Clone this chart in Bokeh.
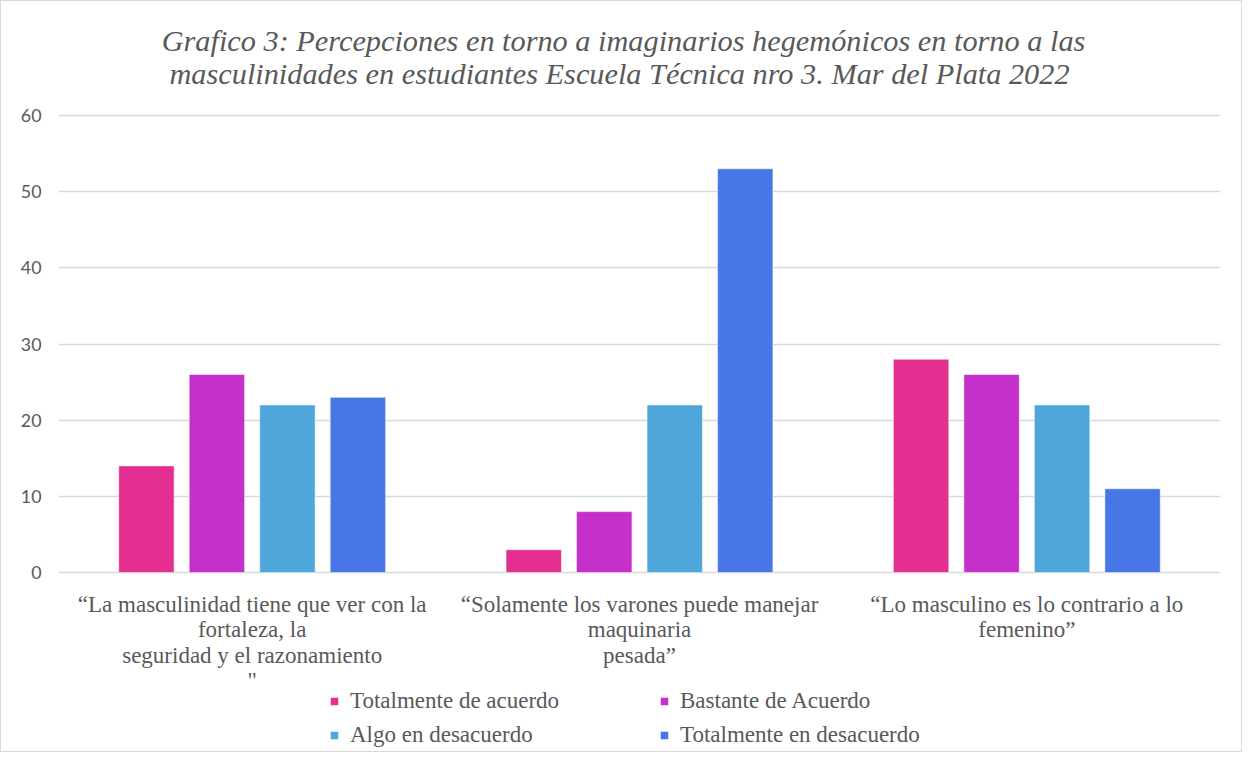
from bokeh.plotting import figure
from bokeh.models import FactorRange, Range1d, Legend, LegendItem, ColumnDataSource, FixedTicker
from bokeh.transform import dodge
from bokeh.embed import file_html
from bokeh.resources import INLINE

categories = [
    "\u201cLa masculinidad tiene que ver con la\nfortaleza, la\nseguridad y el razonamiento\n\"",
    "\u201cSolamente los varones puede manejar\nmaquinaria\npesada\u201d",
    "\u201cLo masculino es lo contrario a lo\nfemenino\u201d",
]
series_names = ["Totalmente de acuerdo", "Bastante de Acuerdo", "Algo en desacuerdo", "Totalmente en desacuerdo"]
totalmente_de_acuerdo = [14, 3, 28]
bastante_de_acuerdo = [26, 8, 26]
algo_en_desacuerdo = [22, 22, 22]
totalmente_en_desacuerdo = [23, 53, 11]
y_ticks = [0, 10, 20, 30, 40, 50, 60]
title_lines = [
    "Grafico 3: Percepciones en torno a imaginarios hegem\u00f3nicos en torno a las",
    "masculinidades en estudiantes Escuela T\u00e9cnica nro 3. Mar del Plata 2022",
]

colors = ["#E32F8F", "#C630CA", "#4EA6DB", "#4876E6"]
offsets = [-0.273, -0.091, 0.091, 0.273]
bar_width = 0.143
GREY = "#595959"
SERIF = "Liberation Serif"

source = ColumnDataSource(dict(
    cat=categories,
    s0=totalmente_de_acuerdo,
    s1=bastante_de_acuerdo,
    s2=algo_en_desacuerdo,
    s3=totalmente_en_desacuerdo,
    base=[0] * len(categories),
))

p = figure(
    width=1242, height=752, title=None,
    x_range=FactorRange(*categories, range_padding=0),
    y_range=Range1d(-23.1, 74.97),
    output_backend="svg", toolbar_location=None,
    min_border_left=57, min_border_right=23, min_border_top=0, min_border_bottom=5,
)

# title: two centred lines above the top gridline
top = max(y_ticks)
title_src = ColumnDataSource(dict(
    x=[categories[1], categories[1]],
    y=[top, top],
    text=title_lines,
    dx=[-16, -20],
    dy=[-75, -42],
))
p.text(x="x", y="y", text="text", source=title_src, x_offset="dx", y_offset="dy",
       text_align="center", text_baseline="middle",
       text_font=SERIF, text_font_style="italic", text_font_size="30.3px", text_color=GREY)

renderers = []
for i, key in enumerate(["s0", "s1", "s2", "s3"]):
    r = p.vbar(x=dodge("cat", offsets[i], range=p.x_range), top=key, width=bar_width,
               source=source, fill_color=colors[i], line_color="white", line_alpha=0.5, line_width=1)
    renderers.append(r)

# category labels under the bars
p.text(x="cat", y="base", text="cat", source=source, y_offset=19,
       text_align="center", text_baseline="top",
       text_font=SERIF, text_font_size="23px", text_color=GREY, text_line_height=1.02)

p.yaxis.ticker = FixedTicker(ticks=y_ticks)
p.yaxis.axis_line_color = None
p.yaxis.major_tick_line_color = None
p.yaxis.minor_tick_line_color = None
p.yaxis.major_label_text_font = "Lato"
p.yaxis.major_label_text_font_size = "17.8px"
p.yaxis.major_label_text_color = GREY
p.yaxis.major_label_standoff = 11

p.xaxis.visible = False
p.xgrid.grid_line_color = None
p.ygrid.grid_line_color = "#D9D9D9"
p.ygrid.grid_line_width = 1.5
p.outline_line_color = None

legend = Legend(
    items=[LegendItem(label=series_names[i], renderers=[renderers[i]]) for i in range(4)],
    orientation="horizontal", ncols=2,
    location=(271, 0),
    label_text_font=SERIF, label_text_font_size="23px", label_text_color=GREY,
    glyph_width=10, glyph_height=10, label_standoff=11, label_width=301, label_height=25,
    spacing=8, padding=0, margin=0,
    border_line_color=None, background_fill_alpha=0,
)
p.add_layout(legend, "center")

p.styles = {"border": "1px solid #D9D9D9"}

open("out.html", "w").write(file_html(p, INLINE))
